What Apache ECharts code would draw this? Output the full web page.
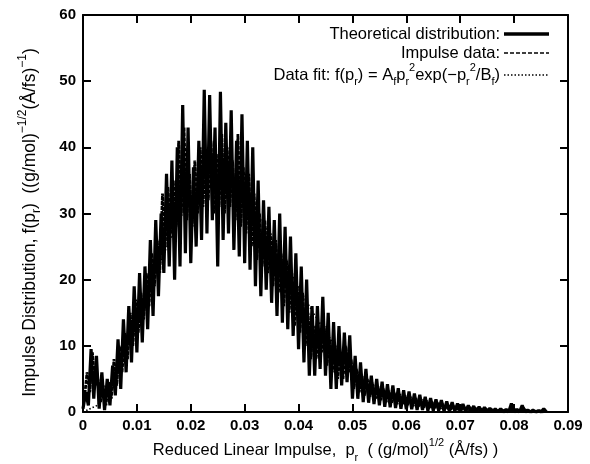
<!DOCTYPE html>
<html>
<head>
<meta charset="utf-8">
<script src="https://cdn.jsdelivr.net/npm/echarts@6/dist/echarts.min.js"></script>
<style>
  html, body { margin: 0; padding: 0; background: #fff; }
  #chart { width: 590px; height: 464px; }
</style>
</head>
<body>
<div id="chart"></div>
<script>
// x spacing of the sampled series
const stepX = 0.0005;
const theoryStart = 0;
const dataStart = 0.00025;
const fitStep = 0.0025;

// theoretical distribution (solid line)
const theoryVals = [
  0.5, 3, 1, 9.5, 2, 8.5, 0.5, 6, 0.3, 5, 1, 7, 2.5, 11, 3.5, 14, 6, 16, 7.5, 19,
  9, 21, 10.5, 22, 12.5, 26, 14.5, 29, 17.5, 30, 21, 36, 22, 38, 20, 40, 22, 46.4, 24, 43,
  22.5, 37, 25, 41, 26, 48.7, 27, 47.9, 29, 43, 22, 48.4, 26, 43.7, 27, 45.6, 24.5, 41, 23.5, 45,
  22.5, 41, 21.5, 40, 19, 35, 17.5, 32, 18.5, 31, 16.5, 29, 14.5, 30, 13.5, 28, 12.5, 26.5, 11.5, 24,
  9.5, 22, 7.5, 20, 5.5, 16, 5.5, 16, 6.5, 17.4, 5.5, 15, 3.5, 13.6, 3.5, 13, 4, 12, 4.5, 11.6,
  2, 8.5, 2, 7.5, 1.5, 6.5, 1.4, 5.5, 1.2, 5, 1, 4.6, 0.8, 4.2, 0.7, 4, 0.6, 3.6, 0.5, 3.3,
  0.4, 3.1, 0.4, 2.8, 0.3, 2.6, 0.3, 2.3, 0.2, 2.1, 0.2, 1.9, 0.2, 1.8, 0.1, 1.6, 0.1, 1.5, 0.1, 1.3,
  0.1, 1.2, 0.1, 1.0, 0.1, 0.9, 0, 0.8, 0, 0.7, 0, 0.6, 0, 0.5, 0, 0.5, 0, 0.4, 0, 1.3,
  0, 0.4, 0, 1.0, 0, 0.3, 0, 0.3, 0, 0.2, 0, 0.5, 0
];

// impulse data (dashed line)
const impulseVals = [
  2, 6, 3, 9, 4, 5, 1.5, 4, 1, 4.5, 2, 8, 4, 10, 6, 12, 8, 15, 10, 17,
  12, 18, 14, 21, 16, 24, 19, 26, 21, 33, 25, 34, 27, 35, 28, 41, 30, 43, 29, 36,
  28, 38, 30, 40, 31, 38, 32, 41, 30, 39, 31, 42, 30, 40, 31, 38, 29, 42, 28, 37,
  27, 36, 25, 33, 23, 30, 22, 29, 21, 27, 19, 26, 18, 24, 16, 23, 15, 21, 13, 19,
  12, 18, 10, 15, 8, 13, 8, 12, 9, 13, 7, 11, 6, 10, 5, 9, 5, 10, 6, 8,
  3.5, 6.5, 3, 5.5, 2.5, 5, 2.3, 4.2, 2, 3.8, 1.8, 3.5, 1.5, 3.2, 1.4, 2.9, 1.2, 2.7, 1.1, 2.5,
  1, 2.3, 0.9, 2.1, 0.8, 1.9, 0.7, 1.7, 0.6, 1.5, 0.5, 1.4, 0.5, 1.2, 0.4, 1.1, 0.4, 1.0, 0.3, 0.9,
  0.3, 0.8, 0.2, 0.7, 0.2, 0.6, 0.2, 0.5, 0.1, 0.5, 0.1, 0.4, 0.1, 0.4, 0.1, 0.3, 0.1, 0.3, 0.1, 0.8,
  0.1, 0.3, 0.1, 0.6, 0, 0.2, 0, 0.2, 0, 0.2, 0, 0.3
];

// data fit curve (dotted), every 0.0025
const fitVals = [
  0, 0.94, 3.66, 7.83, 12.97, 18.52, 23.9, 28.56, 32.11, 34.29,
  35.0, 34.33, 32.45, 29.66, 26.27, 22.57, 18.83, 15.29, 12.08, 9.3,
  6.97, 5.1, 3.64, 2.54, 1.73, 1.15, 0.75, 0.47, 0.29, 0.18,
  0.11, 0.06, 0.04, 0.02, 0.01
];

const yTicks = [0, 10, 20, 30, 40, 50, 60];

function pairs(start, step, vals) {
  return vals.map((v, i) => [+(start + i * step).toFixed(5), v]);
}

const font = "'Liberation Sans', Arial, sans-serif";
function richSet(size, small) {
  return {
    n: { fontSize: size, fontFamily: font, color: '#000', lineHeight: size + 9, verticalAlign: 'middle' },
    sub: { fontSize: small, fontFamily: font, color: '#000', lineHeight: small, verticalAlign: 'bottom' },
    sup: { fontSize: small, fontFamily: font, color: '#000', lineHeight: small, verticalAlign: 'top' }
  };
}
const xNameRich = richSet(16.5, 11);
const yNameRich = richSet(17.5, 12);
const legRich = richSet(16.5, 11);

// legend drawn gnuplot style: text right aligned, sample on the right
const legendLabels = [
  '{n|Theoretical distribution:}',
  '{n|Impulse data:}',
  '{n|Data fit: f(p}{sub|r}{n|) = A}{sub|f}{n|p}{sub|r}{sup|2}{n|exp(\u2212p}{sub|r}{sup|2}{n|/B}{sub|f}{n|)}'
];
const legendRows = [34, 53, 75];
const legendLine = [
  { lineWidth: 3.5 },
  { lineWidth: 1.4, lineDash: [4, 2] },
  { lineWidth: 1.6, lineDash: [1.5, 2] }
];

const legendGraphics = [];
legendLabels.forEach((t, i) => {
  legendGraphics.push({
    type: 'text', x: 500, y: legendRows[i],
    style: { text: t, rich: legRich, align: 'right', verticalAlign: 'middle', fill: '#000' }
  });
  legendGraphics.push({
    type: 'line', shape: { x1: 504, y1: legendRows[i], x2: 549, y2: legendRows[i] },
    style: Object.assign({ stroke: '#000' }, legendLine[i])
  });
});

// gnuplot-like frame: all four axes with inward ticks
function axisBase() {
  return {
    type: 'value',
    axisLine: { show: true, onZero: false, lineStyle: { color: '#000', width: 2 } },
    axisTick: { show: true, inside: true, length: 8, lineStyle: { color: '#000', width: 2 } },
    splitLine: { show: false }
  };
}

const chart = echarts.init(document.getElementById('chart'), null, { renderer: 'canvas' });
chart.setOption({
  animation: false,
  backgroundColor: '#fff',
  grid: { left: 83, right: 22, top: 15, bottom: 52, outerBoundsMode: 'none' },
  graphic: legendGraphics,
  xAxis: [
    Object.assign(axisBase(), {
      min: 0, max: 0.09, interval: 0.01,
      name: '{n|Reduced Linear Impulse,  p}{sub|r}{n|  ( (g/mol)}{sup|1/2}{n| (\u00c5/fs) )}',
      nameLocation: 'middle',
      nameGap: 24,
      nameTextStyle: { rich: xNameRich },
      axisLabel: {
        margin: 6, color: '#000', fontSize: 15, fontWeight: 'bold', fontFamily: font,
        formatter: v => (v === 0 ? '0' : v.toFixed(2))
      }
    }),
    Object.assign(axisBase(), {
      position: 'top', min: 0, max: 0.09, interval: 0.01,
      axisLabel: { show: false }
    })
  ],
  yAxis: [
    Object.assign(axisBase(), {
      min: 0, max: 60, interval: 10,
      name: '{n|Impulse Distribution, f(p}{sub|r}{n|)  ((g/mol)}{sup|\u22121/2}{n|(\u00c5/fs)}{sup|\u22121}{n|)}',
      nameLocation: 'middle',
      nameGap: 40,
      nameTextStyle: { rich: yNameRich, padding: [0, 18, 0, 0] },
      axisLabel: {
        margin: 7, color: '#000', fontSize: 15, fontWeight: 'bold', fontFamily: font,
        formatter: v => yTicks.indexOf(v) >= 0 ? String(v) : ''
      }
    }),
    Object.assign(axisBase(), {
      position: 'right', min: 0, max: 60, interval: 10,
      axisLabel: { show: false }
    })
  ],
  series: [
    {
      name: 'Impulse data', type: 'line', symbol: 'none',
      lineStyle: { color: '#000', width: 2.8, type: [4, 1] },
      data: pairs(dataStart, stepX, impulseVals)
    },
    {
      name: 'Theoretical distribution', type: 'line', symbol: 'none',
      lineStyle: { color: '#000', width: 3.2 },
      data: pairs(theoryStart, stepX, theoryVals)
    },
    {
      name: 'Data fit', type: 'line', symbol: 'none',
      lineStyle: { color: '#000', width: 1.6, type: [1.5, 2] },
      data: pairs(0, fitStep, fitVals)
    }
  ]
});
</script>
</body>
</html>
